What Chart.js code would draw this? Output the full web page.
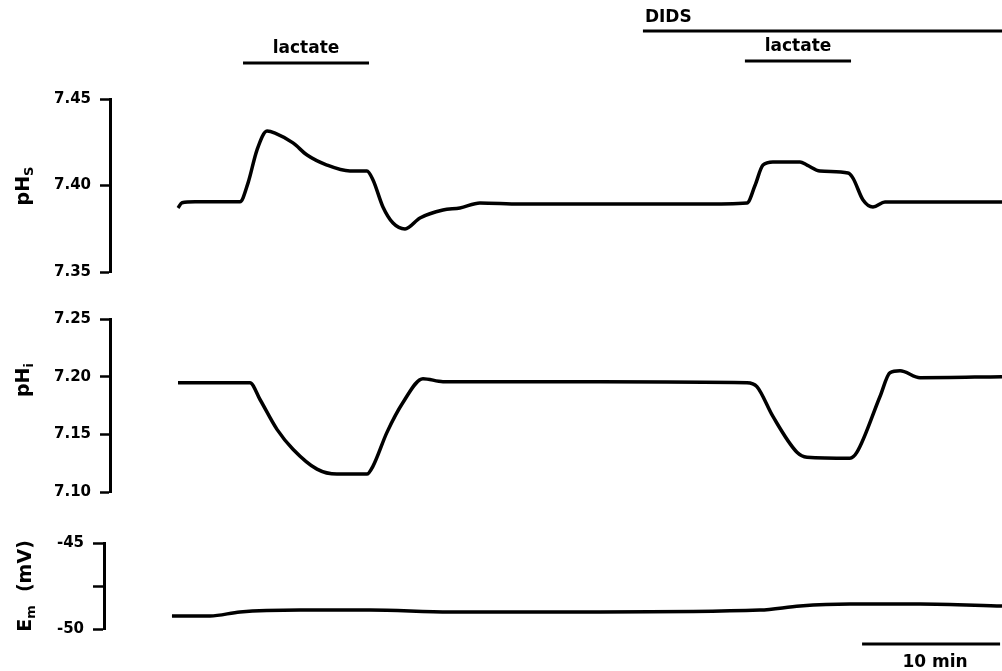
<!DOCTYPE html>
<html>
<head>
<meta charset="utf-8">
<script src="https://cdn.jsdelivr.net/npm/chart.js@4.4.1/dist/chart.umd.min.js"></script>
<style>
  html, body { margin: 0; padding: 0; background: #fff; }
  #wrap { position: relative; width: 1002px; height: 671px; overflow: hidden; }
  canvas { position: absolute; left: 0; }
  .ytitle {
    position: absolute; transform: translate(-50%, -50%) rotate(-90deg);
    font: bold 19px "DejaVu Sans", sans-serif; white-space: nowrap; color: #000;
  }
  .ytitle sub { font-size: 13px; vertical-align: -4px; }
</style>
</head>
<body>
<div id="wrap">
  <canvas id="phsChart" width="1002" height="290" style="top:0"></canvas>
  <canvas id="phiChart" width="1002" height="220" style="top:290px"></canvas>
  <canvas id="emChart" width="1002" height="161" style="top:510px"></canvas>
  <div class="ytitle" style="left:23px; top:186px">pH<sub>S</sub></div>
  <div class="ytitle" style="left:23px; top:380px">pH<sub>i</sub></div>
  <div class="ytitle" style="left:25px; top:586px">E<sub>m</sub>&nbsp;&nbsp;(mV)</div>
</div>
<script>
// time in minutes
const phsTime = [4.93, 5.22, 6.16, 9.42, 10.0, 10.65, 11.38, 11.96, 13.26, 14.28, 15.72, 17.39, 18.62, 19.06, 19.78, 20.51, 21.38, 22.46, 24.13, 25.36, 26.81, 29.71, 35.51, 42.75, 46.16, 46.74, 47.32, 48.04, 50.0, 50.51, 51.45, 53.48, 53.84, 54.57, 55.29, 56.16, 64.64];
const phsValues = [7.387, 7.390, 7.3906, 7.3906, 7.4014, 7.4205, 7.4315, 7.4303, 7.4246, 7.4176, 7.4118, 7.4084, 7.4084, 7.4032, 7.3876, 7.3783, 7.3749, 7.3812, 7.3858, 7.387, 7.3899, 7.3893, 7.3893, 7.3893, 7.3899, 7.400, 7.4118, 7.4136, 7.4136, 7.4118, 7.4084, 7.4072, 7.4043, 7.3916, 7.3876, 7.3905, 7.3905];

const phiTime = [4.93, 10.14, 10.87, 12.10, 13.26, 15.0, 16.45, 18.62, 19.06, 20.07, 21.23, 22.68, 24.13, 35.51, 46.16, 46.88, 48.04, 49.78, 50.51, 53.62, 54.13, 55.8, 56.52, 57.25, 58.70, 64.64];
const phiValues = [7.1948, 7.1948, 7.1802, 7.1543, 7.1371, 7.1198, 7.1155, 7.1155, 7.1224, 7.1517, 7.1776, 7.1983, 7.1957, 7.1957, 7.1948, 7.1914, 7.1655, 7.1345, 7.1302, 7.1293, 7.1345, 7.1828, 7.2034, 7.2052, 7.1991, 7.2000];

const emTime = [4.49, 7.25, 9.42, 13.77, 18.84, 24.64, 35.51, 47.10, 50.0, 53.62, 58.70, 64.64];
const emValues = [-49.24, -49.24, -49.01, -48.90, -48.90, -49.01, -49.01, -48.90, -48.66, -48.55, -48.55, -48.66];

const phsTicks = [7.35, 7.40, 7.45];
const phiTicks = [7.10, 7.15, 7.20, 7.25];
const emTicks = [-50, -47.5, -45];

// bath applications [start, end] in minutes
const lactatePeriods = [[9.64, 18.77], [46.01, 53.70]];
const didsPeriod = [38.62, 64.64];
const scaleBar = [54.5, 64.5]; // 10 min

Chart.defaults.font.family = '"DejaVu Sans", sans-serif';
Chart.defaults.font.weight = 'bold';
Chart.defaults.color = '#000';

const X_MAX = 64.64;

function traceChart(id, times, values, yMin, yMax, ticks, axisX, xMin, pad, tickFont, tickLen, extra) {
  return new Chart(document.getElementById(id), {
    type: 'line',
    data: {
      datasets: [{
        data: times.map((t, i) => ({ x: t, y: values[i] })),
        borderColor: '#000',
        borderWidth: 3.5,
        pointRadius: 0,
        cubicInterpolationMode: 'monotone',
        fill: false
      }]
    },
    options: {
      responsive: false,
      animation: false,
      layout: { padding: pad },
      plugins: { legend: { display: false }, tooltip: { enabled: false } },
      scales: {
        x: { type: 'linear', display: false, min: xMin, max: X_MAX },
        y: {
          min: yMin, max: yMax,
          afterBuildTicks: s => { s.ticks = ticks.map(v => ({ value: v })); },
          afterFit: s => { s.width = axisX; },
          border: { display: true, color: '#000', width: 3 },
          grid: { drawOnChartArea: false, tickLength: tickLen, tickWidth: 2.5, tickColor: '#000' },
          ticks: {
            padding: 9,
            font: { size: tickFont, weight: 'bold' },
            callback: v => (v === -47.5 ? '' : (Math.abs(v) > 20 ? String(v) : v.toFixed(2)))
          }
        }
      }
    },
    plugins: extra ? [extra] : []
  });
}

function bar(ctx, x1, x2, y) {
  ctx.beginPath();
  ctx.moveTo(x1, y);
  ctx.lineTo(x2, y);
  ctx.lineWidth = 3;
  ctx.strokeStyle = '#000';
  ctx.stroke();
}

const annotations = {
  id: 'annotations',
  afterDraw(chart) {
    const ctx = chart.ctx, x = chart.scales.x;
    ctx.save();
    ctx.fillStyle = '#000';
    ctx.font = 'bold 17px "DejaVu Sans", sans-serif';
    ctx.textBaseline = 'middle';
    // DIDS
    bar(ctx, x.getPixelForValue(didsPeriod[0]), x.getPixelForValue(didsPeriod[1]) + 2, 31);
    ctx.textAlign = 'left';
    ctx.fillText('DIDS', x.getPixelForValue(didsPeriod[0]) + 2, 18);
    // lactate
    ctx.textAlign = 'center';
    const ys = [63, 61];
    lactatePeriods.forEach((p, i) => {
      const a = x.getPixelForValue(p[0]), b = x.getPixelForValue(p[1]);
      bar(ctx, a, b, ys[i]);
      ctx.fillText('lactate', (a + b) / 2, ys[i] - 14);
    });
    ctx.restore();
  }
};

const scaleBarPlugin = {
  id: 'scaleBar',
  afterDraw(chart) {
    const ctx = chart.ctx, x = chart.scales.x;
    const a = x.getPixelForValue(scaleBar[0]), b = x.getPixelForValue(scaleBar[1]);
    ctx.save();
    bar(ctx, a, b, 134);
    ctx.fillStyle = '#000';
    ctx.font = 'bold 17px "DejaVu Sans", sans-serif';
    ctx.textAlign = 'center';
    ctx.textBaseline = 'middle';
    ctx.fillText('10 min', (a + b) / 2 + 4, 153);
    ctx.restore();
  }
};

traceChart('phsChart', phsTime, phsValues, 7.35, 7.45, phsTicks, 110, 0,
  { top: 99, bottom: 18, left: 0, right: 0 }, 15, 10, annotations);
traceChart('phiChart', phiTime, phiValues, 7.10, 7.25, phiTicks, 110, 0,
  { top: 29, bottom: 17, left: 0, right: 0 }, 15, 10, null);
traceChart('emChart', emTime, emValues, -50, -45, emTicks, 104, -6 / 13.8,
  { top: 33, bottom: 42, left: 0, right: 0 }, 15, 11, scaleBarPlugin);
</script>
</body>
</html>
